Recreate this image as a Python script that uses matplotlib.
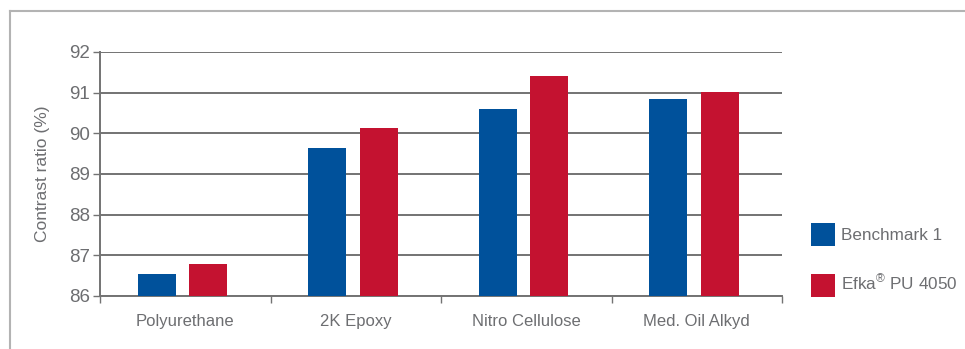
import matplotlib
matplotlib.use("Agg")
import matplotlib.pyplot as plt
from matplotlib.lines import Line2D
from matplotlib.patches import Patch
import numpy as np

categories = ["Polyurethane", "2K Epoxy", "Nitro Cellulose", "Med. Oil Alkyd"]
benchmark = [86.55, 89.64, 90.6, 90.85]
efka = [86.79, 90.13, 91.4, 91.02]
series_names = ["Benchmark 1", "Efka$^{\\circledR}$ PU 4050"]
yticks = [86, 87, 88, 89, 90, 91, 92]

blue = "#00519b"
red = "#c41230"
txt = "#6d6e71"

plt.rcParams["font.family"] = ["Liberation Sans", "DejaVu Sans"]
plt.rcParams["mathtext.fontset"] = "custom"
plt.rcParams["mathtext.rm"] = "Liberation Sans"

fig = plt.figure(figsize=(9.65, 3.49), dpi=100)
ax = fig.add_axes([100 / 965, 1 - 296 / 349, 682 / 965, 244 / 349])

x = np.arange(len(categories)) - 0.016
w = 0.223
off = 0.15
ax.bar(x - off, [b - 86 for b in benchmark], w, bottom=86, color=blue, lw=0, zorder=3)
ax.bar(x + off, [e - 86 for e in efka], w, bottom=86, color=red, lw=0, zorder=3)

ax.set_xlim(-0.5, len(categories) - 0.5)
ax.set_ylim(86, 92)
ax.set_yticks(yticks)
ax.set_yticklabels([str(t) for t in yticks], fontsize=13.5, color=txt)
ax.yaxis.grid(True, color="#737373", linewidth=1.4, zorder=0)
ax.set_axisbelow(True)

ax.set_xticks(np.arange(len(categories) + 1) - 0.5)
ax.set_xticklabels([])
ax.set_xticks(np.arange(len(categories)), minor=True)
ax.set_xticklabels(categories, minor=True, fontsize=12, color=txt)
ax.tick_params(axis="x", which="minor", length=0, pad=13)
ax.tick_params(axis="x", which="major", length=5, color="#737373", width=1)
ax.tick_params(axis="y", length=5, color="#737373", width=1, pad=2)

for s in ["top", "right"]:
    ax.spines[s].set_visible(False)
for s in ["left", "bottom"]:
    ax.spines[s].set_color("#737373")
    ax.spines[s].set_linewidth(1.4)

ax.set_ylabel("Contrast ratio (%)", fontsize=12.5, color=txt, labelpad=14)

handles = [Patch(facecolor=blue, lw=0), Patch(facecolor=red, lw=0)]
leg = ax.legend(handles, series_names, loc="upper left",
                bbox_to_anchor=(804 / 965, 1 - 216 / 349), bbox_transform=fig.transFigure,
                frameon=False, fontsize=12.3, handlelength=1.4, handleheight=1.7,
                labelspacing=1.6, handletextpad=0.35, borderaxespad=0)
for t in leg.get_texts():
    t.set_color(txt)

# outer frame: only top and left edges visible
fig.add_artist(Line2D([10 / 965, 1], [1 - 11 / 349, 1 - 11 / 349], color="#b3b3b3", lw=1.5))
fig.add_artist(Line2D([10 / 965, 10 / 965], [1 - 11 / 349, 0], color="#b3b3b3", lw=1.5))

fig.savefig("out.png", dpi=100)
